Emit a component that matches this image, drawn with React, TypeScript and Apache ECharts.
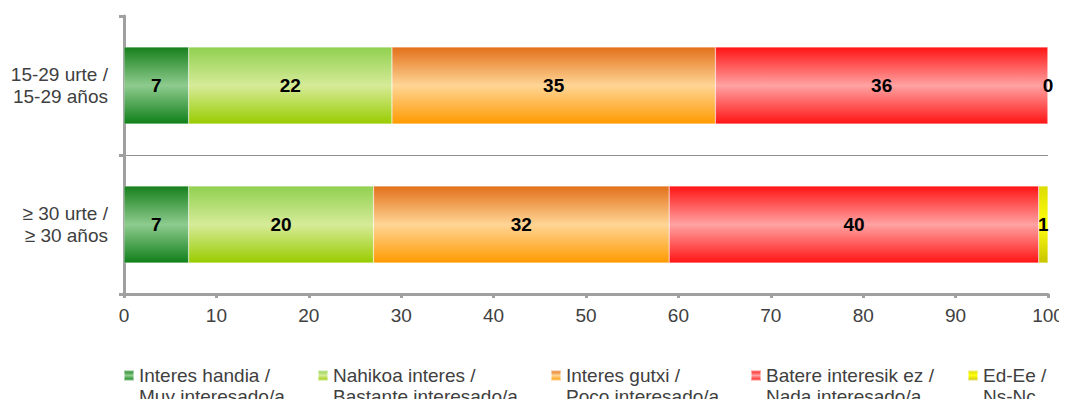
import React, { useEffect, useRef } from "react";
import * as echarts from "echarts";

const categories = ["15-29 urte /\n15-29 años", "≥ 30 urte /\n≥ 30 años"];
const seriesNames = [
  "Interes handia /\nMuy interesado/a",
  "Nahikoa interes /\nBastante interesado/a",
  "Interes gutxi /\nPoco interesado/a",
  "Batere interesik ez /\nNada interesado/a",
  "Ed-Ee /\nNs-Nc",
];
const muyInteresado = [7, 7];
const bastanteInteresado = [22, 20];
const pocoInteresado = [35, 32];
const nadaInteresado = [36, 40];
const nsNc = [0, 1];
const xTicks = { min: 0, max: 100, interval: 10 };

const gradients: [string, string, string][] = [
  ["#17801c", "#8ecb8e", "#10801a"],
  ["#90d050", "#d6eb98", "#99cc00"],
  ["#e3701a", "#ffd595", "#ff9a00"],
  ["#ff1414", "#ffa2a2", "#ff1414"],
  ["#dcdc00", "#ffff10", "#c8c400"],
];

const legendLefts = [118, 312, 545, 745, 962];

const FONT = "'Liberation Sans', Arial, sans-serif";

function grad(c: [string, string, string]) {
  return new echarts.graphic.LinearGradient(0, 0, 0, 1, [
    { offset: 0, color: c[0] },
    { offset: 0.5, color: c[1] },
    { offset: 1, color: c[2] },
  ]);
}

export default function App() {
  const ref = useRef<HTMLDivElement>(null);
  useEffect(() => {
    if (!ref.current) return;
    const chart = echarts.init(ref.current, undefined, { renderer: "svg" });
    const data = [muyInteresado, bastanteInteresado, pocoInteresado, nadaInteresado, nsNc];
    const series = seriesNames.map((name, i) => ({
      name,
      type: "bar",
      stack: "total",
      barWidth: "55.4%",
      data: data[i],
      itemStyle: { color: grad(gradients[i]), borderColor: "rgba(255,255,255,0.5)", borderWidth: 0.5 },
      label: {
        show: true,
        position: "inside",
        color: "#000",
        fontWeight: "bold",
        fontSize: 19,
        fontFamily: FONT,
      },
    }));
    const legends = seriesNames.map((name, i) => ({
      data: [{ name, icon: "rect" }],
      left: legendLefts[i],
      top: 339,
      orient: "horizontal",
      itemWidth: 10,
      itemHeight: 10,
      formatter: (n: string) => "\n" + n,
      textStyle: {
        fontSize: 19,
        lineHeight: 21,
        color: "#404040",
        fontFamily: FONT,
      },
      selectedMode: false,
    }));
    chart.setOption({
      animation: false,
      backgroundColor: "#fff",
      legend: legends,
      grid: { left: 124, right: 19, top: 16, bottom: 113, containLabel: false },
      xAxis: {
        type: "value",
        min: xTicks.min,
        max: xTicks.max,
        interval: xTicks.interval,
        axisLine: { show: true, lineStyle: { color: "#a0a0a0", width: 3 } },
        axisTick: { show: true, length: 4, lineStyle: { color: "#a0a0a0", width: 3 } },
        splitLine: { show: false },
        axisLabel: { fontSize: 19, color: "#404040", fontFamily: FONT, margin: 12 },
      },
      yAxis: {
        type: "category",
        inverse: true,
        data: categories,
        axisLine: { show: true, lineStyle: { color: "#a0a0a0", width: 3 } },
        axisTick: { show: true, length: 5, lineStyle: { color: "#a0a0a0", width: 3 } },
        splitLine: {
          show: true,
          showMinLine: false,
          showMaxLine: false,
          lineStyle: { color: "#909090", width: 1 },
        },
        axisLabel: {
          fontSize: 19,
          lineHeight: 22,
          color: "#404040",
          fontFamily: FONT,
          margin: 16,
        },
      },
      series,
    });
    return () => chart.dispose();
  }, []);
  return <div ref={ref} style={{ width: 1067, height: 407, margin: -8 }} />;
}
